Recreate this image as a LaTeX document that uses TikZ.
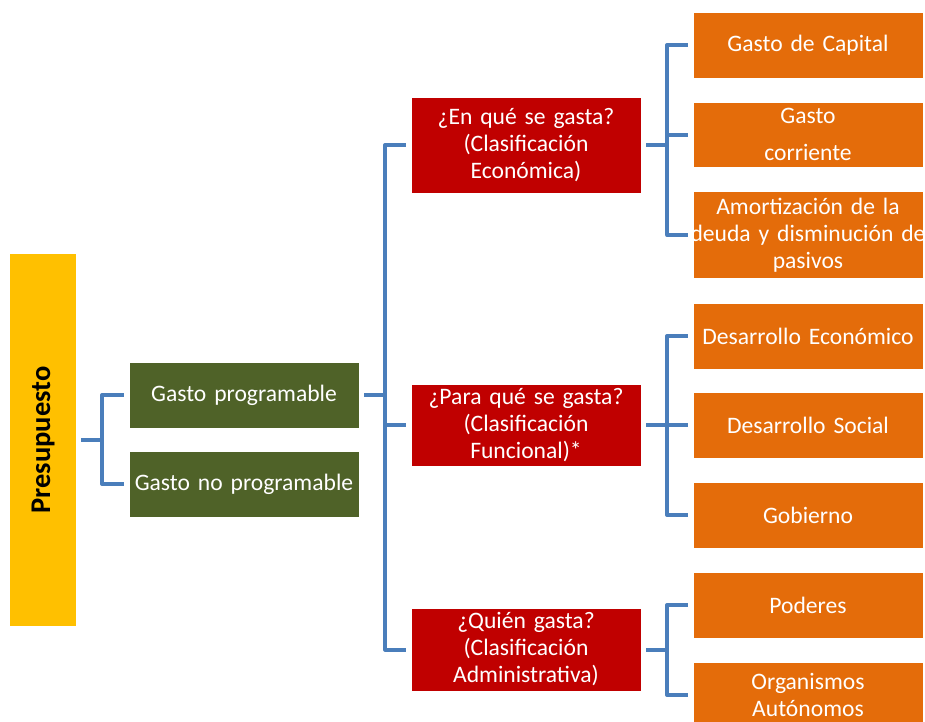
\documentclass[tikz,border=0pt]{standalone}
\usepackage{fontspec}
\setmainfont{Carlito}
\usepackage{graphicx}
\definecolor{amarillo}{HTML}{FFC000}
\definecolor{verde}{HTML}{4F6228}
\definecolor{rojo}{HTML}{C00000}
\definecolor{naranja}{HTML}{E46C0A}
\definecolor{azul}{HTML}{4A7EBB}
\begin{document}
\begin{tikzpicture}[x=1pt,y=-1pt,
  caja/.style={draw=white, line width=0.6pt, inner sep=0pt, minimum width=230,
    text width=230, align=center, text=white, font=\fontsize{23.6}{27}\selectfont},
  tipo/.style={caja, fill=verde, minimum height=66},
  pregunta/.style={caja, fill=rojo},
  rubro/.style={caja, fill=naranja, minimum height=66},
  conn/.style={draw=azul, line width=4pt, line join=round}]
\useasboundingbox (0,0) rectangle (925,721);

\node[fill=amarillo, inner sep=0pt, minimum width=66, minimum height=372,
  font=\fontsize{28.5}{30}\selectfont\bfseries] (p) at (43,440) {\rotatebox{90}{Presupuesto}};

\node[tipo] (g1) at (244,395) {Gasto programable};
\node[tipo] (g2) at (244,484) {Gasto no programable};

\node[pregunta, minimum height=96] (r1) at (526,145) {¿En qué se gasta?\\(Clasificación\\Económica)};
\node[pregunta, minimum height=82] (r2) at (526,425) {¿Para qué se gasta?\\(Clasificación\\Funcional)*};
\node[pregunta, minimum height=83] (r3) at (526,649.5) {¿Quién gasta?\\(Clasificación\\Administrativa)};

\node[rubro] (o1) at (808,45) {Gasto de Capital};
\node[rubro, minimum height=65] (o2) at (808,134.5) {Gasto\\[10pt]corriente};
\node[rubro, minimum height=87] (o3) at (808,235) {Amortización de la\\\makebox[230pt][c]{deuda y disminución de}\\pasivos};
\node[rubro] (o4) at (808,336) {Desarrollo Económico};
\node[rubro] (o5) at (808,425) {Desarrollo Social};
\node[rubro] (o6) at (808,515) {Gobierno};
\node[rubro] (o7) at (808,605) {Poderes};
\node[rubro] (o8) at (808,695) {Organismos\\Autónomos};

% presupuesto
\path[conn] ([xshift=5]p.east) -- ++(21,0) |- ([xshift=-5]g1.west);
\path[conn] ([xshift=5]p.east) -- ++(21,0) |- ([xshift=-5]g2.west);

% clasificaciones
\path[conn] ([xshift=5]g1.east) -- ++(21,0) |- ([xshift=-5]r1.west);
\path[conn] ([xshift=5]g1.east) -- ++(21,0) |- ([xshift=-5]r2.west);
\path[conn] ([xshift=5]g1.east) -- ++(21,0) |- ([xshift=-5]r3.west);

\path[conn] ([xshift=5]r1.east) -- ++(21,0) |- ([xshift=-5]o1.west);
\path[conn] ([xshift=5]r1.east) -- ++(21,0) |- ([xshift=-5]o2.west);
\path[conn] ([xshift=5]r1.east) -- ++(21,0) |- ([xshift=-5]o3.west);

\path[conn] ([xshift=5]r2.east) -- ++(21,0) |- ([xshift=-5]o4.west);
\path[conn] ([xshift=5]r2.east) -- ++(21,0) |- ([xshift=-5]o5.west);
\path[conn] ([xshift=5]r2.east) -- ++(21,0) |- ([xshift=-5]o6.west);

\path[conn] ([xshift=5]r3.east) -- ++(21,0) |- ([xshift=-5]o7.west);
\path[conn] ([xshift=5]r3.east) -- ++(21,0) |- ([xshift=-5]o8.west);
\end{tikzpicture}
\end{document}
